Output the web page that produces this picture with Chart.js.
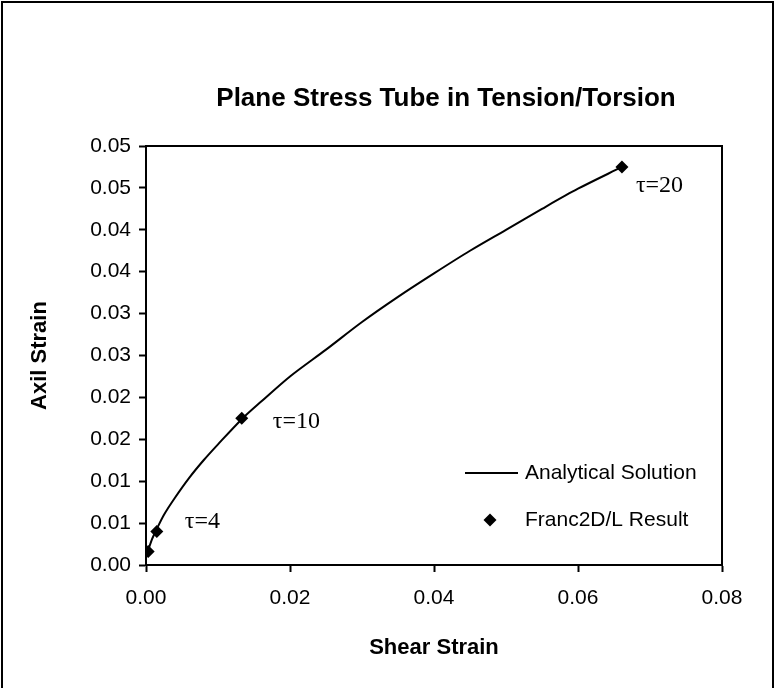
<!DOCTYPE html>
<html>
<head>
<meta charset="utf-8">
<script src="https://cdn.jsdelivr.net/npm/chart.js@4.4.0/dist/chart.umd.min.js"></script>
<style>
  body { margin: 0; background: #fff; }
  canvas { display: block; }
</style>
</head>
<body>
<canvas id="strainChart" width="775" height="688"></canvas>
<script>
// Analytical solution: shear strain vs axial strain
const curveShear = [0.0002, 0.0008, 0.0015, 0.0025, 0.0040, 0.0060, 0.0080, 0.0100, 0.0133, 0.0160,
                    0.0200, 0.0250, 0.0300, 0.0350, 0.0400, 0.0450, 0.0500, 0.0550, 0.0600, 0.0661];
const curveAxial = [0.0015, 0.0030, 0.0043, 0.0060, 0.0080, 0.0104, 0.0125, 0.0144, 0.0174, 0.0195,
                    0.0225, 0.0257, 0.0290, 0.0320, 0.0348, 0.0375, 0.0400, 0.0425, 0.0449, 0.0475];

// Franc2D/L results
const resultShear = [0.0003, 0.0015, 0.0133, 0.0661];
const resultAxial = [0.0016, 0.0040, 0.0175, 0.0475];
const resultTags = ['', 'τ=4', 'τ=10', 'τ=20'];

const xTickLabels = ['0.00', '0.02', '0.04', '0.06', '0.08'];
const yTickLabels = ['0.00', '0.01', '0.01', '0.02', '0.02', '0.03', '0.03', '0.04', '0.04', '0.05', '0.05'];

const chartTitle = 'Plane Stress Tube in Tension/Torsion';

// where each tau tag sits relative to its point
const tagOffsets = [[0, 0], [28, -10], [31, 3], [14, 19]];

const sansFont = '"Liberation Sans", Arial, sans-serif';
const serifFont = '"Liberation Serif", "Times New Roman", serif';

const framePlugin = {
    id: 'frame',
    afterDraw(chart) {
        const c = chart.ctx;
        const a = chart.chartArea;
        c.save();
        c.strokeStyle = '#000';
        c.fillStyle = '#000';

        // outer border
        c.lineWidth = 2;
        c.beginPath();
        c.moveTo(2, 700);
        c.lineTo(2, 2);
        c.lineTo(773, 2);
        c.lineTo(773, 700);
        c.stroke();
        // plot box
        c.strokeRect(a.left, a.top, a.right - a.left, a.bottom - a.top);

        // title
        c.font = 'bold 26px ' + sansFont;
        c.textAlign = 'center';
        c.textBaseline = 'alphabetic';
        c.fillText(chartTitle, 446, 106);

        // tau tags next to the result points
        const pts = chart.getDatasetMeta(1).data;
        c.font = '24px ' + serifFont;
        c.textBaseline = 'middle';
        c.textAlign = 'left';
        pts.forEach((p, i) => {
            if (!resultTags[i]) return;
            c.fillText(resultTags[i], p.x + tagOffsets[i][0], p.y + tagOffsets[i][1]);
        });

        // legend in lower right of the plot
        const lx = a.right - 257;
        const ly = a.bottom - 92;
        c.lineWidth = 2;
        c.beginPath();
        c.moveTo(lx, ly);
        c.lineTo(lx + 53, ly);
        c.stroke();
        c.font = '21px ' + sansFont;
        c.fillText('Analytical Solution', lx + 60, ly);
        const dx = lx + 25, dy = ly + 47;
        c.beginPath();
        c.moveTo(dx, dy - 6.5);
        c.lineTo(dx + 6.5, dy);
        c.lineTo(dx, dy + 6.5);
        c.lineTo(dx - 6.5, dy);
        c.closePath();
        c.fill();
        c.fillText('Franc2D/L Result', lx + 60, dy);
        c.restore();
    }
};

const ctx = document.getElementById('strainChart').getContext('2d');
const chart = new Chart(ctx, {
    type: 'scatter',
    data: {
        datasets: [{
            label: 'Analytical Solution',
            data: curveShear.map((x, i) => ({x: x, y: curveAxial[i]})),
            showLine: true,
            borderColor: '#000',
            borderWidth: 2,
            pointRadius: 0,
            tension: 0.3
        }, {
            label: 'Franc2D/L Result',
            data: resultShear.map((x, i) => ({x: x, y: resultAxial[i]})),
            pointStyle: 'rectRot',
            pointRadius: 6.5,
            backgroundColor: '#000',
            borderColor: '#000',
            borderWidth: 0
        }]
    },
    options: {
        responsive: false,
        animation: false,
        layout: { padding: { left: 0, right: 53, top: 146, bottom: 0 } },
        plugins: {
            legend: { display: false },
            tooltip: { enabled: false },
            title: { display: false }
        },
        scales: {
            x: {
                type: 'linear',
                min: 0,
                max: 0.08,
                ticks: {
                    stepSize: 0.02,
                    autoSkip: false,
                    color: '#000',
                    font: { family: sansFont, size: 21 },
                    padding: 14,
                    maxRotation: 0,
                    callback: (v, i) => xTickLabels[i]
                },
                grid: { drawOnChartArea: false, color: '#000', tickLength: 7, tickWidth: 2 },
                border: { color: '#000', width: 2 },
                title: {
                    display: true,
                    text: 'Shear Strain',
                    color: '#000',
                    font: { family: sansFont, size: 22, weight: 'bold' },
                    padding: { top: 0, bottom: 27 }
                },
                afterFit: s => { s.height = 123; }
            },
            y: {
                type: 'linear',
                min: 0,
                max: 0.05,
                ticks: {
                    stepSize: 0.005,
                    autoSkip: false,
                    color: '#000',
                    font: { family: sansFont, size: 21 },
                    padding: 8,
                    callback: (v, i) => yTickLabels[i]
                },
                grid: { drawOnChartArea: false, color: '#000', tickLength: 7, tickWidth: 2 },
                border: { color: '#000', width: 2 },
                title: {
                    display: true,
                    text: 'Axil Strain',
                    color: '#000',
                    font: { family: sansFont, size: 22, weight: 'bold' },
                    padding: { top: 27, bottom: 0 }
                },
                afterFit: s => { s.width = 146; }
            }
        }
    },
    plugins: [framePlugin]
});
</script>
</body>
</html>
